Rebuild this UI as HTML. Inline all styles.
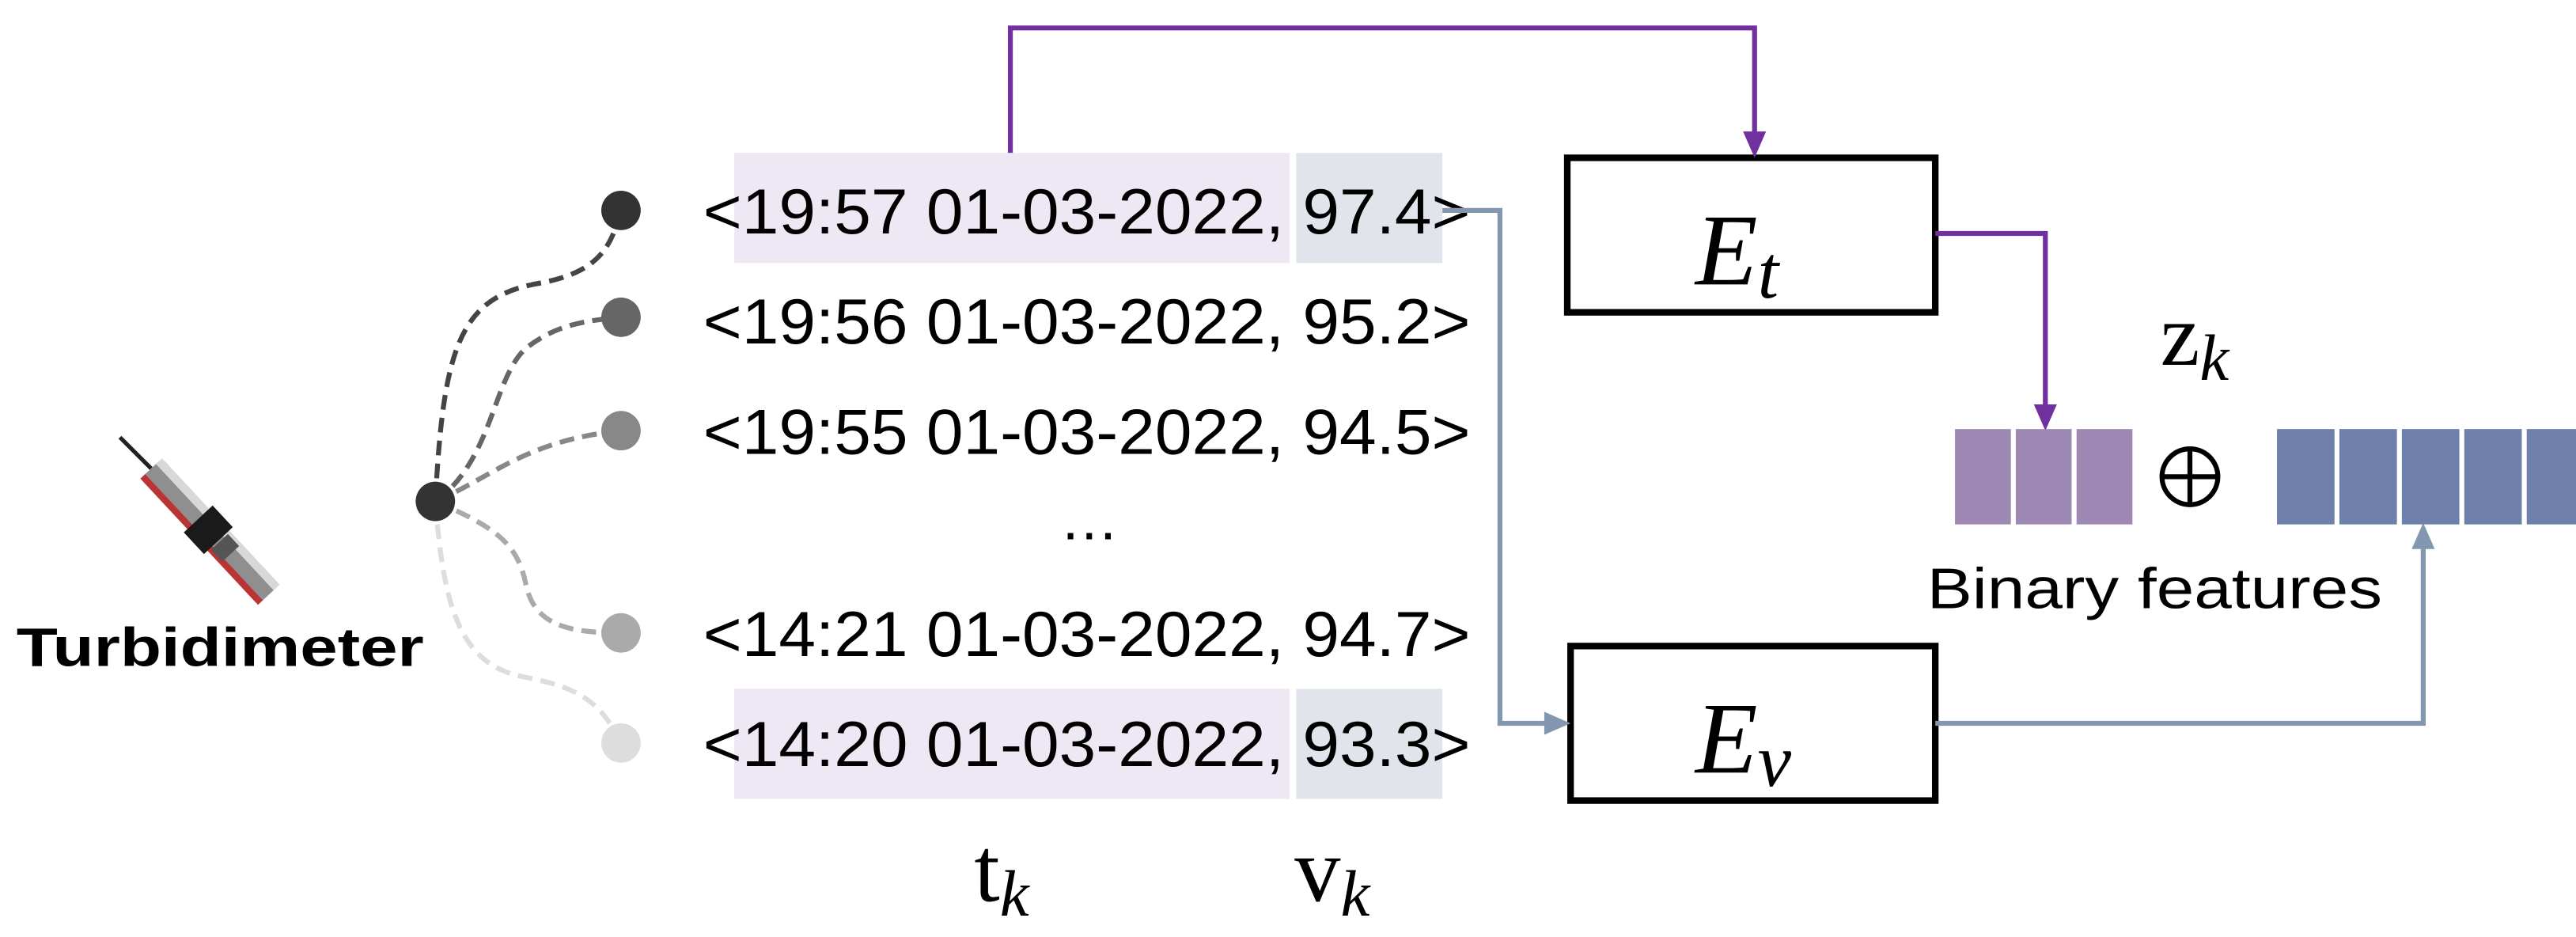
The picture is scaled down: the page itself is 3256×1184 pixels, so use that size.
<!DOCTYPE html>
<html><head><meta charset="utf-8"><style>html,body{margin:0;padding:0;background:#fff}svg{display:block}</style></head>
<body>
<svg width="3256" height="1184" viewBox="0 0 1568 570" preserveAspectRatio="none" xmlns="http://www.w3.org/2000/svg">
<!-- highlights -->
<rect x="447" y="93" width="338" height="67" fill="#ede8f3"/>
<rect x="789" y="93" width="89" height="67" fill="#e1e5eb"/>
<rect x="447" y="419" width="338" height="67" fill="#ede8f3"/>
<rect x="789" y="419" width="89" height="67" fill="#e1e5eb"/>
<!-- row texts -->
<g font-family="Liberation Sans, sans-serif" font-size="39" fill="#000">
<text x="428" y="142" textLength="467" lengthAdjust="spacingAndGlyphs">&lt;19:57 01-03-2022, 97.4&gt;</text>
<text x="428" y="209" textLength="467" lengthAdjust="spacingAndGlyphs">&lt;19:56 01-03-2022, 95.2&gt;</text>
<text x="428" y="276" textLength="467" lengthAdjust="spacingAndGlyphs">&lt;19:55 01-03-2022, 94.5&gt;</text>
<text x="645" y="328" font-size="36">…</text>
<text x="428" y="399" textLength="467" lengthAdjust="spacingAndGlyphs">&lt;14:21 01-03-2022, 94.7&gt;</text>
<text x="428" y="466" textLength="467" lengthAdjust="spacingAndGlyphs">&lt;14:20 01-03-2022, 93.3&gt;</text>
</g>
<!-- t_k v_k -->
<text x="593" y="548" font-family="Liberation Serif, serif" font-size="56">t<tspan font-style="italic" font-size="40" dy="9">k</tspan></text>
<text x="788" y="548" font-family="Liberation Serif, serif" font-size="56">v<tspan font-style="italic" font-size="40" dy="9">k</tspan></text>
<!-- dashed curves -->
<g fill="none" stroke-width="3" stroke-dasharray="9,5">
<path d="M265,305 C270,210 280,180 330,172 C365,165 372,150 378,128" stroke="#444"/>
<path d="M265,305 C300,280 300,230 320,212 C340,196 360,195 378,193" stroke="#666"/>
<path d="M265,305 C300,290 320,268 378,262" stroke="#888"/>
<path d="M265,305 C300,320 315,330 320,355 C325,380 345,385 378,385" stroke="#aaa"/>
<path d="M265,305 C270,370 280,405 320,412 C350,418 365,425 378,452" stroke="#ddd"/>
</g>
<circle cx="378" cy="128" r="12" fill="#333"/>
<circle cx="378" cy="193" r="12" fill="#666"/>
<circle cx="378" cy="262" r="12" fill="#888"/>
<circle cx="378" cy="385" r="12" fill="#aaa"/>
<circle cx="378" cy="452" r="12" fill="#ddd"/>
<circle cx="265" cy="305" r="12" fill="#333"/>
<!-- sensor -->
<line x1="73" y1="266" x2="92" y2="285" stroke="#222" stroke-width="2.5"/>
<g transform="translate(92,285) rotate(47)">
<rect x="0" y="-9" width="105" height="18" fill="#8f8f8f" rx="3"/>
<rect x="0" y="5" width="105" height="4" fill="#b33"/>
<rect x="0" y="-9" width="105" height="5" fill="#d8d8d8"/>
<rect x="42" y="-12" width="18" height="24" fill="#1a1a1a"/>
<rect x="61" y="-7" width="10" height="14" fill="#555"/>
</g>
<text x="10" y="405" font-family="Liberation Sans, sans-serif" font-weight="bold" font-size="33" textLength="248" lengthAdjust="spacingAndGlyphs">Turbidimeter</text>
<!-- boxes -->
<rect x="954" y="96" width="224" height="94" fill="#fff" stroke="#000" stroke-width="4"/>
<rect x="956" y="393" width="222" height="94" fill="#fff" stroke="#000" stroke-width="4"/>
<text x="1032" y="173" font-family="Liberation Serif, serif" font-style="italic" font-size="62">E<tspan font-size="46" dy="8">t</tspan></text>
<text x="1032" y="470" font-family="Liberation Serif, serif" font-style="italic" font-size="62">E<tspan font-size="46" dy="8">v</tspan></text>
<!-- purple lines -->
<polyline points="615,93 615,17 1068,17 1068,84" fill="none" stroke="#7030a0" stroke-width="3"/>
<path d="M1061,80 L1075,80 L1068,96 Z" fill="#7030a0"/>
<polyline points="1178,142 1245,142 1245,250" fill="none" stroke="#7030a0" stroke-width="3"/>
<path d="M1238,246 L1252,246 L1245,262 Z" fill="#7030a0"/>
<!-- gray-blue lines -->
<polyline points="878,128 913,128 913,440 944,440" fill="none" stroke="#8497b0" stroke-width="3"/>
<path d="M940,433 L956,440 L940,447 Z" fill="#8497b0"/>
<polyline points="1178,440 1475,440 1475,330" fill="none" stroke="#8497b0" stroke-width="3"/>
<path d="M1468,334 L1482,334 L1475,318 Z" fill="#8497b0"/>
<!-- blocks -->
<g fill="#9e88b4">
<rect x="1190" y="261" width="34" height="58"/>
<rect x="1227" y="261" width="34" height="58"/>
<rect x="1264" y="261" width="34" height="58"/>
</g>
<g fill="#6e80ab">
<rect x="1386" y="261" width="35" height="58"/>
<rect x="1424" y="261" width="35" height="58"/>
<rect x="1462" y="261" width="35" height="58"/>
<rect x="1500" y="261" width="35" height="58"/>
<rect x="1538" y="261" width="30" height="58"/>
</g>
<circle cx="1333" cy="290" r="17" fill="none" stroke="#000" stroke-width="3"/>
<line x1="1316" y1="290" x2="1350" y2="290" stroke="#000" stroke-width="3"/>
<line x1="1333" y1="273" x2="1333" y2="307" stroke="#000" stroke-width="3"/>
<text x="1315" y="222" font-family="Liberation Serif, serif" font-size="54">z<tspan font-style="italic" font-size="40" dy="9">k</tspan></text>
<text x="1173" y="370" font-family="Liberation Sans, sans-serif" font-size="35" textLength="277" lengthAdjust="spacingAndGlyphs">Binary features</text>
</svg>
</body></html>
